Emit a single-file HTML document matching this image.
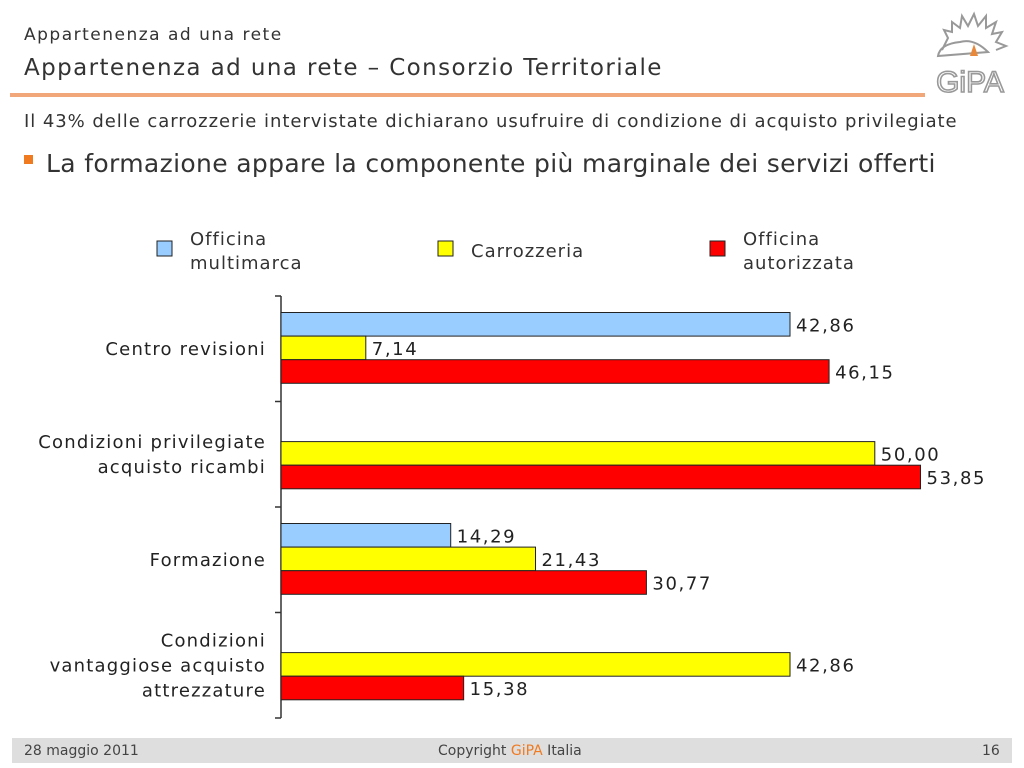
<!DOCTYPE html>
<html><head><meta charset="utf-8"><style>
body{margin:0;width:1024px;height:768px;background:#fff;font-family:"DejaVu Sans","Liberation Sans",sans-serif;color:#333;position:relative;overflow:hidden}
.a{position:absolute;white-space:nowrap}
svg text{letter-spacing:1.1px}
</style></head><body>
<div class="a" style="left:24px;top:25px;font-size:17px;letter-spacing:1.5px;color:#333">Appartenenza ad una rete</div>
<div class="a" style="left:24px;top:55px;font-size:23px;letter-spacing:1.4px;color:#333">Appartenenza ad una rete – Consorzio Territoriale</div>
<div class="a" style="left:10px;top:93px;width:915px;height:4px;background:#f2a77a"></div>
<svg class="a" style="left:930px;top:8px" width="80" height="88" viewBox="0 0 80 88">
<path d="M12 42 L18 30 L14 22 L22 24 L22 14 L30 20 L32 8 L38 18 L44 6 L48 18 L56 8 L56 20 L66 14 L62 26 L72 24 L66 34 L76 38 L66 42" fill="none" stroke="#999" stroke-width="2"/>
<path d="M8 48 Q10 36 30 34 Q44 30 58 44 L8 48Z" fill="none" stroke="#999" stroke-width="2"/>
<path d="M40 48 L44 36 L48 48Z" fill="#e8883a"/>
<text x="40" y="84" text-anchor="middle" font-family="Liberation Sans" font-size="30" fill="none" stroke="#999" stroke-width="1.6" style="letter-spacing:0">GiPA</text>
</svg>
<div class="a" style="left:24px;top:111px;font-size:18px;letter-spacing:0.95px;color:#333">Il 43% delle carrozzerie intervistate dichiarano usufruire di condizione di acquisto privilegiate</div>
<div class="a" style="left:24px;top:155px;width:9px;height:9px;background:#f07a20"></div>
<div class="a" style="left:46px;top:149px;font-size:25px;letter-spacing:0.35px;color:#333">La formazione appare la componente più marginale dei servizi offerti</div>

<svg class="a" style="left:0;top:0" width="1024" height="768" id="chart"></svg>

<div class="a" style="left:12px;top:738px;width:1000px;height:25px;background:#dedede"></div>
<div class="a" style="left:24px;top:743px;font-size:14px;color:#444">28 maggio 2011</div>
<div class="a" style="left:438px;top:743px;font-size:14px;color:#444">Copyright <span style="color:#f07a20">GiPA</span> Italia</div>
<div class="a" style="left:982px;top:743px;font-size:14px;color:#444">16</div>

<script>
const categories=[["Centro revisioni"],["Condizioni privilegiate","acquisto ricambi"],["Formazione"],["Condizioni","vantaggiose acquisto","attrezzature"]];
const seriesNames=[["Officina","multimarca"],["Carrozzeria"],["Officina","autorizzata"]];
const multimarca=[42.86,null,14.29,null];
const carrozzeria=[7.14,50.00,21.43,42.86];
const autorizzata=[46.15,53.85,30.77,15.38];
const series=[multimarca,carrozzeria,autorizzata];
const colors=["#99ccff","#ffff00","#ff0000"];
const svg=document.getElementById('chart');
const NS="http://www.w3.org/2000/svg";
const x0=281,pxPer=11.876,top0=296,band=105.5,barH=23.6,barOff=16.5;
function xs(v){return x0+v*pxPer;}
function mk(t,a){const e=document.createElementNS(NS,t);for(const k in a)e.setAttribute(k,a[k]);svg.appendChild(e);return e;}
function fmt(v){return v.toFixed(2).replace('.',',');}
let ax=mk('line',{x1:x0,y1:top0,x2:x0,y2:top0+band*4,stroke:'#333','stroke-width':1.5});


for(let i=0;i<=4;i++){const y=top0+band*i;const t=mk('line',{x1:x0-6,y1:y,x2:x0,y2:y,stroke:'#333','stroke-width':1.5});

}
categories.forEach((lines,i)=>{
  const cy=top0+band*i+band/2+5;
  const start=cy-(lines.length-1)*25/2+1;
  lines.forEach((ln,j)=>{const t=mk('text',{x:266,y:start+j*25,'text-anchor':'end','font-size':18,fill:'#222','font-family':'DejaVu Sans, Liberation Sans, sans-serif',style:'letter-spacing:1.2px'});t.textContent=ln;
  
  });
  series.forEach((s,k)=>{
    const v=s[i];if(v==null)return;
    const y=top0+band*i+barOff+k*barH;
    const r=mk('rect',{x:x0,y:y,width:xs(v)-x0,height:barH,fill:colors[k],stroke:'#222','stroke-width':1});
    
    
    const t=mk('text',{x:xs(v)+6,y:y+barH/2+7,'font-size':18,fill:'#222','font-family':'DejaVu Sans, Liberation Sans, sans-serif',style:'letter-spacing:1.6px'});t.textContent=fmt(v);
    
    
  });
});
const legX=[157,438,710];
seriesNames.forEach((nm,k)=>{
  const sq=mk('rect',{x:legX[k],y:241,width:15,height:15,fill:colors[k],stroke:'#222','stroke-width':1});
  
  
  const y0=nm.length==1?257:245;
  nm.forEach((ln,j)=>{const t=mk('text',{x:legX[k]+33,y:y0+j*24,'font-size':18,fill:'#333','font-family':'DejaVu Sans, Liberation Sans, sans-serif',style:'letter-spacing:1px'});t.textContent=ln;
  
  });
});
</script>
</body></html>
